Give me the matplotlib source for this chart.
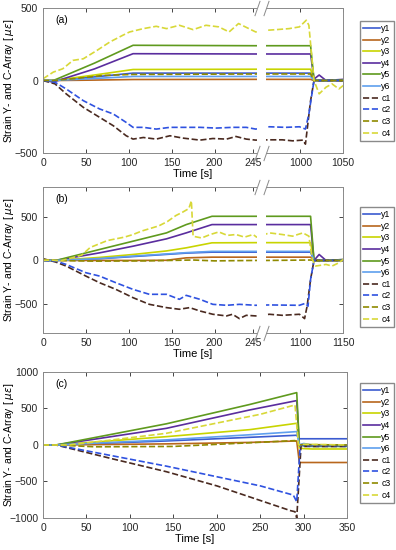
import numpy as np
import matplotlib
matplotlib.use("Agg")
import matplotlib.pyplot as plt
from matplotlib import transforms

plt.rcParams['font.family'] = ['Liberation Sans', 'DejaVu Sans']
plt.rcParams['mathtext.fontset'] = 'dejavusans'

names = ["y1", "y2", "y3", "y4", "y5", "y6", "c1", "c2", "c3", "c4"]
colors = ["#3b5bd0", "#b8661c", "#c8d400", "#5a2d9e", "#5f9a1e", "#5f9fee",
          "#4a2a20", "#2f52e0", "#8f8a00", "#d8d838"]
styles = ["-"] * 6 + ["--"] * 4

# ---- panel (a) ----
ta_y = [0, 12, 60, 105, 248, 962, 1012, 1016, 1022, 1030, 1050]
a_y1 = [0, 0, 25, 51, 51, 51, 51, 5, 0, 0, 0]
a_y2 = [0, 0, 3, 7, 8, 8, 8, 0, 0, 0, 0]
a_y3 = [0, 0, 38, 76, 78, 78, 78, 5, 0, 0, 0]
a_y4 = [0, -10, 80, 185, 183, 183, 183, 10, 38, 0, 8]
a_y5 = [0, 0, 120, 243, 240, 240, 240, 5, 0, 0, 5]
a_y6 = [0, 0, 14, 28, 28, 28, 28, 0, 0, 0, 0]
ta_c1 = [0, 14, 27, 47, 66, 82, 97, 105, 117, 132, 148, 163, 183, 198, 214, 225, 237, 248,
         964, 979, 991, 1003, 1006, 1012, 1016, 1030, 1050]
a_c1 = [0, -23, -92, -185, -254, -312, -381, -404, -393, -404, -381, -397, -411, -400, -404, -386, -404, -411,
        -409, -409, -416, -411, -439, -139, 0, 0, 0]
ta_c2 = [0, 14, 27, 47, 66, 82, 97, 105, 117, 132, 148, 167, 183, 202, 221, 237, 248,
         964, 983, 999, 1006, 1010, 1016, 1030, 1050]
a_c2 = [0, -12, -58, -139, -196, -231, -289, -323, -323, -335, -323, -323, -323, -328, -323, -323, -335,
        -319, -323, -319, -335, -231, 0, 0, 0]
ta_c3 = [0, 12, 40, 70, 105, 248, 962, 1012, 1016, 1050]
a_c3 = [0, 0, 15, 35, 42, 45, 45, 45, 0, 0]
ta_c4 = [0, 12, 23, 35, 47, 63, 78, 93, 101, 117, 132, 144, 159, 175, 190, 205, 217, 228, 240, 248,
         962, 972, 987, 999, 1007, 1010, 1016, 1022, 1030, 1037, 1045, 1050]
a_c4 = [12, 58, 81, 139, 150, 208, 266, 312, 335, 358, 374, 358, 381, 351, 381, 370, 335, 393, 358, 335,
        347, 351, 358, 370, 416, 381, 0, -92, -46, -23, -58, -35]

# ---- panel (b) ----
tb_y = [0, 15, 66, 105, 144, 167, 197, 248, 1062, 1112, 1116, 1122, 1130, 1150]
b_y1 = [0, 0, 20, 45, 70, 85, 96, 96, 96, 96, 0, 0, 0, 0]
b_y2 = [0, 0, 0, 0, 2, 30, 38, 38, 38, 38, 0, 0, 0, 0]
b_y3 = [0, 0, 35, 69, 110, 146, 204, 206, 206, 206, 0, -10, 0, 0]
b_y4 = [0, 0, 88, 165, 250, 319, 415, 415, 415, 415, 0, 69, 0, 10]
b_y5 = [0, 0, 127, 223, 319, 415, 511, 511, 511, 511, 0, 0, 0, 10]
b_y6 = [0, 0, 22, 50, 75, 90, 105, 105, 105, 105, 0, 0, 0, 0]
tb_c1 = [0, 15, 27, 50, 66, 85, 105, 124, 144, 159, 171, 183, 198, 214, 221, 229, 237, 248,
         1064, 1079, 1099, 1105, 1108, 1112, 1116, 1150]
b_c1 = [20, -19, -65, -181, -258, -335, -431, -508, -546, -565, -546, -585, -623, -642, -623, -673, -635, -642,
        -623, -635, -623, -673, -527, -219, 0, 0]
tb_c2 = [0, 15, 27, 50, 66, 85, 105, 124, 144, 159, 167, 183, 198, 214, 229, 248,
         1064, 1099, 1106, 1109, 1112, 1116, 1150]
b_c2 = [0, -8, -46, -142, -181, -258, -335, -392, -392, -450, -404, -450, -508, -519, -508, -519,
        -515, -519, -496, -530, -219, 0, 0]
tb_c3 = [0, 15, 60, 120, 175, 200, 248, 1062, 1112, 1116, 1150]
b_c3 = [10, 0, -8, -5, 5, -5, 0, 0, 5, 0, 0]
tb_c4 = [0, 10, 20, 30, 45, 55, 65, 75, 85, 95, 105, 115, 125, 135, 145, 155, 163, 170, 173, 175,
         185, 195, 205, 215, 225, 235, 245, 249,
         1064, 1079, 1091, 1103, 1110, 1114, 1118, 1130, 1137, 1145, 1150]
b_c4 = [0, 5, -5, 20, 60, 150, 190, 230, 250, 270, 300, 340, 370, 400, 450, 520, 560, 600, 690, 280,
        260, 300, 330, 290, 300, 270, 300, 270,
        319, 300, 281, 319, 281, 12, -65, -46, -65, -27, 12]

# ---- panel (c) ----
tc_y = [0, 15, 142, 238, 292, 295, 300, 310, 350]
c_y1 = [0, 0, 55, 105, 133, 85, 85, 85, 85]
c_y2 = [0, 0, 15, 35, 55, -240, -240, -240, -240]
c_y3 = [0, 0, 114, 210, 297, -40, -50, -55, -55]
c_y4 = [0, 0, 228, 480, 608, 0, 10, -10, -10]
c_y5 = [0, 0, 290, 555, 717, 0, -10, -20, -20]
c_y6 = [0, 0, 70, 140, 183, 0, 20, 0, 0]
tc_c1 = [0, 15, 80, 142, 200, 250, 285, 290, 292, 297, 300, 350]
c_c1 = [0, 0, -190, -366, -560, -760, -900, -914, -1000, 0, -20, -20]
tc_c2 = [0, 15, 142, 250, 288, 292, 296, 300, 350]
c_c2 = [0, 0, -290, -560, -686, -777, 0, -10, -10]
tc_c3 = [0, 15, 60, 150, 220, 290, 294, 300, 350]
c_c3 = [0, 0, -25, -20, 20, 60, 0, 5, 0]
tc_c4 = [0, 30, 80, 142, 200, 250, 290, 294, 300, 350]
c_c4 = [0, 0, 70, 160, 300, 420, 548, 0, 10, 0]


def break_scale(offset):
    # real time -> axis position: [0,254] kept, later part shifted left by offset
    xp = [-1e5, 254, 256 + offset, 1e5]
    fp = [-1e5, 254, 256, 1e5 - offset]
    fwd = lambda t: np.interp(t, xp, fp)
    inv = lambda u: np.interp(u, fp, xp)
    return fwd, inv


def style_axes(ax, label, ylab_x=-0.09):
    ax.tick_params(direction="in", top=True, right=True, labelsize=7.5,
                   colors="#262626", length=3, width=0.6)
    for s in ax.spines.values():
        s.set_color("#8a8a8a")
        s.set_linewidth(0.7)
    ax.set_xlabel("Time [s]", fontsize=8, labelpad=1)
    ax.set_ylabel(r"Strain Y- and C-Array [ $\mu\epsilon$]", fontsize=7.5)
    ax.yaxis.set_label_coords(ylab_x, 0.5)
    ax.text(0.04, 0.92, label, transform=ax.transAxes, fontsize=7.5, va="center")


def draw_break(ax, x0, x1):
    tr = transforms.blended_transform_factory(ax.transData, ax.transAxes)
    ax.add_patch(plt.Rectangle((x0, -0.03), x1 - x0, 1.06, transform=tr,
                               facecolor="white", edgecolor="none", zorder=3, clip_on=False))
    for x in (x0, x1):
        ax.plot([x, x], [0, 1], transform=tr, linestyle="none", marker=[(-0.35, -1), (0.35, 1)],
                markersize=11, markeredgewidth=0.7, color="#8a8a8a", zorder=4, clip_on=False)


def add_legend(ax, top):
    ax.legend(loc="upper left", bbox_to_anchor=(0.909, top), bbox_transform=fig.transFigure,
              fontsize=6.3, handlelength=1.9, handletextpad=0.2, labelspacing=0.3,
              borderpad=0.35, borderaxespad=0, fancybox=False, edgecolor="#8a8a8a",
              framealpha=1)


fig = plt.figure(figsize=(3.96, 5.5), dpi=100)

panels = [
    ([ta_y] * 6 + [ta_c1, ta_c2, ta_c3, ta_c4],
     [a_y1, a_y2, a_y3, a_y4, a_y5, a_y6, a_c1, a_c2, a_c3, a_c4]),
    ([tb_y] * 6 + [tb_c1, tb_c2, tb_c3, tb_c4],
     [b_y1, b_y2, b_y3, b_y4, b_y5, b_y6, b_c1, b_c2, b_c3, b_c4]),
    ([tc_y] * 6 + [tc_c1, tc_c2, tc_c3, tc_c4],
     [c_y1, c_y2, c_y3, c_y4, c_y5, c_y6, c_c1, c_c2, c_c3, c_c4]),
]

# (a)
ax1 = fig.add_axes([0.1086, 0.7218, 0.758, 0.2636])
fwd, inv = break_scale(700)
ax1.set_xscale("function", functions=(fwd, inv))
for t, v, n, c, ls in zip(*panels[0], names, colors, styles):
    ax1.plot(t, v, ls, color=c, lw=1.2, label=n)
ax1.set_xlim(0, 1050)
ax1.set_ylim(-500, 500)
ax1.set_xticks([0, 50, 100, 150, 200, 245, 1000, 1050])
ax1.set_xticklabels(["0", "50", "100", "150", "200", "245", "1000", "1050"])
ax1.set_yticks([-500, 0, 500])
ax1.minorticks_off()
style_axes(ax1, "(a)")
draw_break(ax1, 249, 960.5)
add_legend(ax1, 0.962)

# (b)
ax2 = fig.add_axes([0.1086, 0.3945, 0.758, 0.2655])
fwd, inv = break_scale(800)
ax2.set_xscale("function", functions=(fwd, inv))
for t, v, n, c, ls in zip(*panels[1], names, colors, styles):
    ax2.plot(t, v, ls, color=c, lw=1.2, label=n)
ax2.set_xlim(0, 1150)
ax2.set_ylim(-840, 850)
ax2.set_xticks([0, 50, 100, 150, 200, 245, 1100, 1150])
ax2.set_xticklabels(["0", "50", "100", "150", "200", "245", "1100", "1150"])
ax2.set_yticks([-500, 0, 500])
ax2.minorticks_off()
style_axes(ax2, "(b)")
draw_break(ax2, 249, 1060.5)
add_legend(ax2, 0.6236)

# (c)
ax3 = fig.add_axes([0.1086, 0.0582, 0.768, 0.2655])
for t, v, n, c, ls in zip(*panels[2], names, colors, styles):
    ax3.plot(t, v, ls, color=c, lw=1.2, label=n)
ax3.set_xlim(0, 350)
ax3.set_ylim(-1000, 1000)
ax3.set_xticks([0, 50, 100, 150, 200, 250, 300, 350])
ax3.set_yticks([-1000, -500, 0, 500, 1000])
style_axes(ax3, "(c)", ylab_x=-0.089)
add_legend(ax3, 0.3036)

fig.savefig("out.png", dpi=100)
